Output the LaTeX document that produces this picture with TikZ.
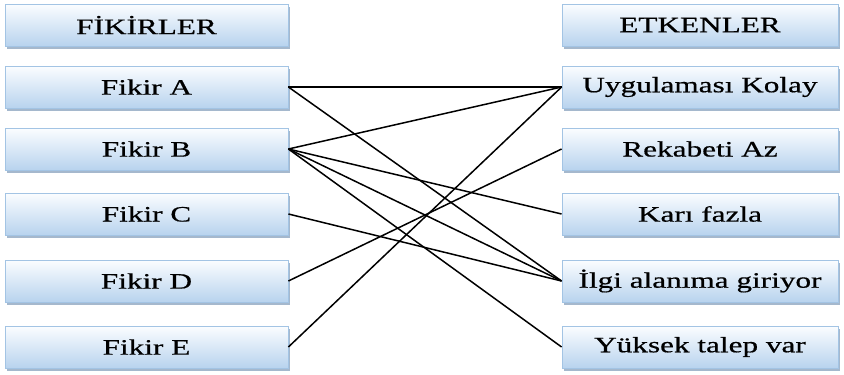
\documentclass[tikz,border=0pt]{standalone}
\usepackage{fontspec}
\setmainfont{Liberation Serif}[FakeStretch=1.42,FakeBold=0.6]
\usetikzlibrary{shadows}
\definecolor{boxtop}{HTML}{FBFDFF}
\definecolor{boxbot}{HTML}{B8D3EE}
\definecolor{boxline}{HTML}{A3C4E4}
\definecolor{boxshade}{HTML}{8FA6C0}
\begin{document}
\begin{tikzpicture}[x=1pt,y=-1pt,
  itembox/.style={draw=boxline, line width=0.8pt, top color=boxtop, bottom color=boxbot,
    minimum height=42pt, inner sep=0pt, font=\fontsize{22}{25}\selectfont,
    drop shadow={shadow xshift=2pt, shadow yshift=-2.5pt, fill=boxshade, opacity=0.8}},
  leftbox/.style={itembox, minimum width=283pt},
  rightbox/.style={itembox, minimum width=276pt},
  link/.style={draw=black, line width=1.5pt}]
\useasboundingbox (0,0) rectangle (844,375);
% left column: ideas
\node[leftbox] (lh) at (146.5,25) {FİKİRLER};
\node[leftbox] (fa) at (146.5,87) {Fikir A};
\node[leftbox] (fb) at (146.5,149) {Fikir B};
\node[leftbox] (fc) at (146.5,214) {Fikir C};
\node[leftbox] (fd) at (146.5,281) {Fikir D};
\node[leftbox] (fe) at (146.5,347) {Fikir E};
% right column: factors
\node[rightbox] (rh) at (700,25) {ETKENLER};
\node[rightbox] (e1) at (700,87) {Uygulaması Kolay};
\node[rightbox] (e2) at (700,149) {Rekabeti Az};
\node[rightbox] (e3) at (700,214) {Karı fazla};
\node[rightbox] (e4) at (700,281) {İlgi alanıma giriyor};
\node[rightbox] (e5) at (700,347) {Yüksek talep var};
% links between ideas and factors
\draw[link] (fa.east) -- (e1.west);
\draw[link] (fa.east) -- (e4.west);
\draw[link] (fb.east) -- (e1.west);
\draw[link] (fb.east) -- (e3.west);
\draw[link] (fb.east) -- (e4.west);
\draw[link] (fb.east) -- (e5.west);
\draw[link] (fc.east) -- (e4.west);
\draw[link] (fd.east) -- (e2.west);
\draw[link] (fe.east) -- (e1.west);
\end{tikzpicture}
\end{document}
